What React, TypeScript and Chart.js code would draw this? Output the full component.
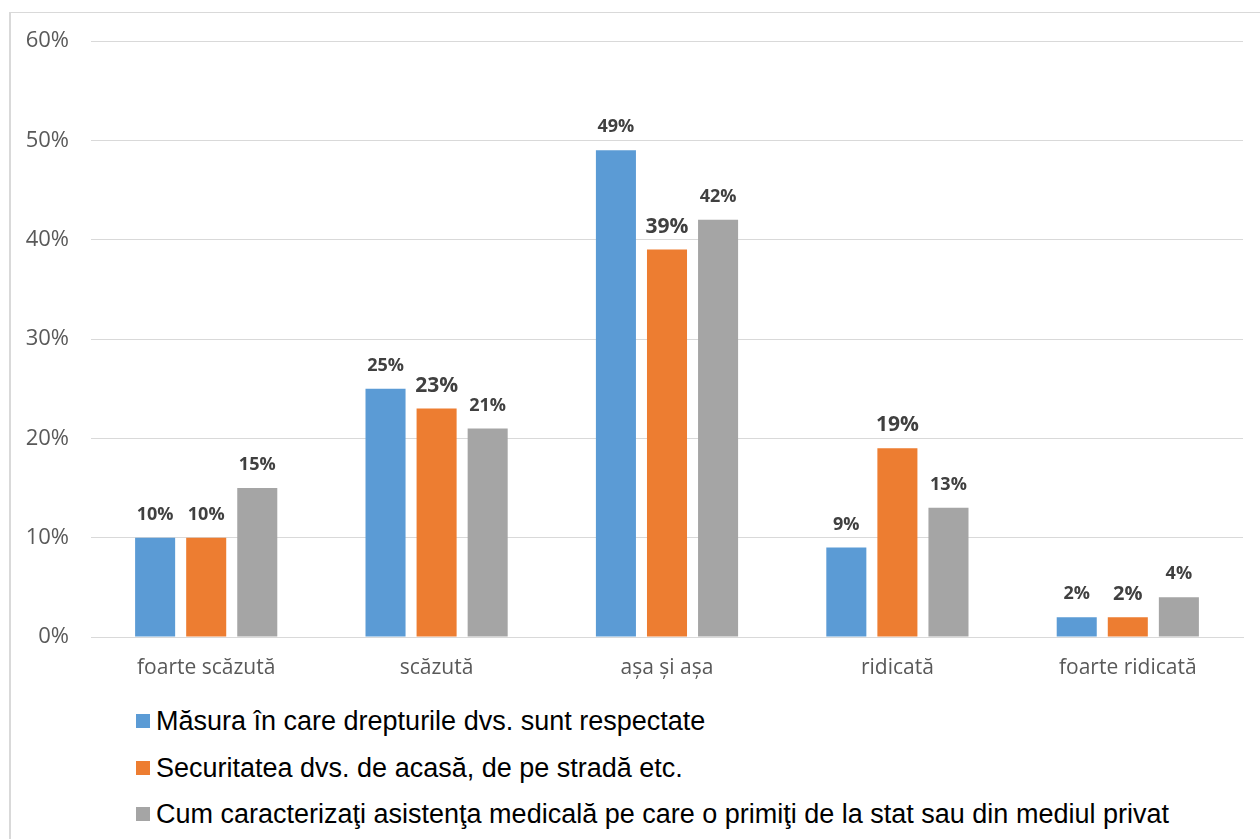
import React, { useEffect, useRef } from "react";
import { Chart, registerables } from "chart.js";

Chart.register(...registerables);

const categories = ["foarte scăzută", "scăzută", "așa și așa", "ridicată", "foarte ridicată"];
const seriesNames = [
  "Măsura în care drepturile dvs. sunt respectate",
  "Securitatea dvs. de acasă, de pe stradă etc.",
  "Cum caracterizaţi asistenţa medicală pe care o primiţi de la stat sau din mediul privat",
];
const rightsValues = [10, 25, 49, 9, 2];
const safetyValues = [10, 23, 39, 19, 2];
const healthValues = [15, 21, 42, 13, 4];
const seriesColors = ["#5B9BD5", "#ED7D31", "#A5A5A5"];
const labelSizes = [
  [18, 18, 18, 18, 18],
  [18, 21, 21, 21, 20],
  [18, 18, 18, 18, 18],
];
const yTicks = [0, 10, 20, 30, 40, 50, 60];

const dataLabelPlugin = {
  id: "dataLabels",
  afterDatasetsDraw(chart: any) {
    const ctx = chart.ctx;
    ctx.save();
    chart.data.datasets.forEach((ds: any, di: number) => {
      const meta = chart.getDatasetMeta(di);
      meta.data.forEach((bar: any, i: number) => {
        ctx.font = `bold ${labelSizes[di][i]}px "Open Sans", sans-serif`;
        ctx.fillStyle = "#404040";
        ctx.textAlign = "center";
        ctx.textBaseline = "middle";
        ctx.fillText(ds.data[i] + "%", bar.x, bar.y - 23);
      });
    });
    ctx.restore();
  },
};

export default function App() {
  const ref = useRef<HTMLCanvasElement | null>(null);
  useEffect(() => {
    if (!ref.current) return;
    const chart = new Chart(ref.current, {
      type: "bar",
      data: {
        labels: categories,
        datasets: [rightsValues, safetyValues, healthValues].map((d, i) => ({
          label: seriesNames[i],
          data: d,
          backgroundColor: seriesColors[i],
          categoryPercentage: 0.665,
          barPercentage: 0.784,
        })),
      },
      options: {
        animation: false,
        responsive: false,
        maintainAspectRatio: false,
        layout: { padding: { top: 41, right: 17, left: 0, bottom: 0 } },
        plugins: { legend: { display: false }, tooltip: { enabled: false } },
        scales: {
          x: {
            grid: { display: false, drawTicks: false },
            border: { display: true, color: "#d9d9d9", width: 1 },
            ticks: {
              color: "#595959",
              font: { family: "Open Sans", size: 21 },
              padding: 18,
            },
            afterFit: (s: any) => {
              s.height = 53;
            },
          },
          y: {
            min: 0,
            max: 60,
            afterBuildTicks: (s: any) => {
              s.ticks = yTicks.map((v) => ({ value: v }));
            },
            grid: { color: "#d9d9d9", drawTicks: false, lineWidth: 1 },
            border: { display: false },
            ticks: {
              color: "#595959",
              font: { family: "Open Sans", size: 22 },
              padding: 22,
              callback: (v: any) => v + "%",
            },
            afterFit: (s: any) => {
              s.width = 91;
            },
          },
        },
      },
      plugins: [dataLabelPlugin],
    });
    return () => chart.destroy();
  }, []);

  return (
    <div
      style={{
        position: "fixed",
        left: 0,
        top: 0,
        width: 1260,
        height: 839,
        background: "#fff",
        overflow: "hidden",
      }}
    >
      <div
        style={{
          position: "absolute",
          left: 9,
          top: 12,
          width: 1400,
          height: 1000,
          borderLeft: "2px solid #d9d9d9",
          borderTop: "1px solid #d9d9d9",
        }}
      />
      <canvas
        ref={ref}
        width={1260}
        height={690}
        style={{ position: "absolute", left: 0, top: 0, width: 1260, height: 690 }}
      />
      {seriesNames.map((n, i) => (
        <React.Fragment key={n}>
          <span
            style={{
              position: "absolute",
              left: 136,
              top: Math.round(714 + 46.5 * i),
              width: 14,
              height: 14,
              background: seriesColors[i],
            }}
          />
          <span
            style={{
              position: "absolute",
              left: 156,
              top: Math.round(705 + 46.5 * i),
              fontFamily: "'Liberation Sans', Arial, sans-serif",
              fontSize: 27,
              lineHeight: "32px",
              color: "#000",
              whiteSpace: "nowrap",
            }}
          >
            {n}
          </span>
        </React.Fragment>
      ))}
    </div>
  );
}
